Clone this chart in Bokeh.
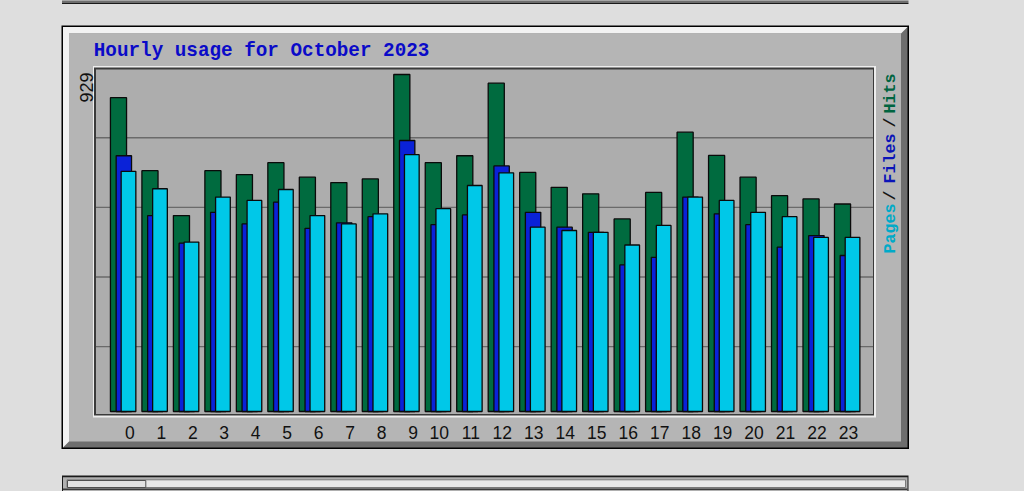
import numpy as np
from bokeh.plotting import figure
from bokeh.models import Range1d
from bokeh.embed import file_html
from bokeh.resources import INLINE
from bokeh.core.properties import value

# ---------------- data ----------------
HOURS = list(range(24))
HOUR_LABELS = [str(h) for h in HOURS]
HITS = [865, 664, 540, 664, 653, 686, 646, 631, 641, 929, 686, 705,
        905, 659, 618, 600, 531, 604, 770, 706, 646, 595, 586, 572]
FILES = [705, 540, 464, 549, 517, 577, 505, 520, 537, 747, 515, 542,
         677, 549, 508, 494, 404, 425, 591, 545, 515, 453, 485, 430]
PAGES = [662, 614, 467, 591, 582, 612, 540, 517, 545, 708, 559, 623,
         658, 508, 499, 494, 459, 513, 591, 582, 549, 537, 480, 480]
TITLE = "Hourly usage for October 2023"
MAX_LABEL = str(max(HITS))
LEGEND = [("Pages", "pages"), ("/", "sep"), ("Files", "files"), ("/", "sep"), ("Hits", "hits")]

# ---------------- style ----------------
PAGE_BG = "#dedede"
PANEL = "#b5b5b5"
PLOT_BG = "#adadad"
HITS_C = "#006b3f"
FILES_C = "#0a22d8"
PAGES_C = "#00c8e8"
TXT_C = {"pages": "#00aac8", "files": "#0a14b8", "hits": "#006440", "sep": "#151515"}

W, H = 1024, 491
OX, OY = 0, 0  # page offset of canvas

# page-pixel coordinate frame
p = figure(width=W, height=H, x_range=Range1d(OX, OX + W), y_range=Range1d(OY + H, OY),
           output_backend="svg", toolbar_location=None, min_border=0,
           x_axis_type=None, y_axis_type=None,
           border_fill_color=PAGE_BG, background_fill_color=PAGE_BG,
           outline_line_color=None)
p.grid.visible = False

# scales for the data
BASE_Y, TOP_Y = 411.0, 74.0
px_per = (BASE_Y - TOP_Y) / max(HITS)
X0, STEP = 109.3, 31.48
p.extra_y_ranges = {"v": Range1d((BASE_Y - (OY + H)) / px_per, (BASE_Y - OY) / px_per)}
p.extra_x_ranges = {"h": Range1d((OX - X0) / STEP, (OX + W - X0) / STEP)}

# ---------------- previous panel bottom edge ----------------
p.quad(left=61.5, right=908, top=-2, bottom=2.5, fill_color="#6e6e6e", line_color=None)
p.quad(left=61.5, right=908, top=2.5, bottom=3.5, fill_color="#1a1a1a", line_color=None)

# ---------------- outer panel ----------------
p.quad(left=61, right=908.5, top=25, bottom=448.5, fill_color="#000000", line_color=None)
p.quad(left=62.5, right=907, top=26.5, bottom=447, fill_color="#6e6e6e", line_color=None)
p.patch(x=[62.5, 907, 900.5, 68.5, 68.5, 62.5], y=[26.5, 26.5, 33, 33, 441, 447],
        fill_color="#f2f2f2", line_color=None)
p.quad(left=68.5, right=900.5, top=33, bottom=441, fill_color=PANEL, line_color=None)

# plot area with double border
p.quad(left=92.5, right=875.5, top=65.5, bottom=417, fill_color="#ededed", line_color=None)
p.quad(left=93.5, right=873.5, top=67, bottom=415, fill_color="#3a3a3a", line_color=None)
p.quad(left=95.5, right=872.5, top=69, bottom=413.5, fill_color=PLOT_BG, line_color=None)

# grid lines (decorative, fixed pixel spacing)
gy = [137.3 + 69.6 * k for k in range(4)]
p.segment(x0=[95.5] * 4, x1=[872.5] * 4, y0=gy, y1=gy, line_color="#6a6a6a", line_width=1.4)

# ---------------- bars ----------------
hx = np.array(HOURS, dtype=float)
LW = 1.3
p.vbar(x=hx + 0.276, width=0.553 - LW / STEP, top=HITS, bottom=0,
       fill_color=HITS_C, line_color="#0a0a0a", line_width=LW,
       x_range_name="h", y_range_name="v")
p.vbar(x=hx + 0.446, width=0.53 - LW / STEP, top=FILES, bottom=0,
       fill_color=FILES_C, line_color="#0a0a0a", line_width=LW,
       x_range_name="h", y_range_name="v")
p.vbar(x=hx + 0.594, width=0.508 - LW / STEP, top=PAGES, bottom=0,
       fill_color=PAGES_C, line_color="#0a0a0a", line_width=LW,
       x_range_name="h", y_range_name="v")

# ---------------- texts ----------------
lab_x = [h + (0.635 if len(s) == 1 else 0.467) for h, s in zip(HOURS, HOUR_LABELS)]
p.text(x=lab_x, y=[431.5] * 24, text=HOUR_LABELS, x_range_name="h",
       text_font=value("Liberation Sans"), text_font_size="17.5px", text_color="#111111",
       text_align="center", text_baseline="middle")

p.text(x=[85.5], y=[102], text=[MAX_LABEL], angle=np.pi / 2,
       text_font=value("Liberation Sans"), text_font_size="18px", text_color="#111111",
       text_align="left", text_baseline="middle")

p.text(x=[93.3], y=[50], text=[TITLE], text_font=value("Liberation Mono"),
       text_font_style="bold", text_font_size="19.3px", text_color="#0a0ac8",
       text_align="left", text_baseline="middle")

leg_y = [253, 200, 183, 127, 113]
for (t, k), yy in zip(LEGEND, leg_y):
    p.text(x=[890], y=[yy], text=[t], angle=np.pi / 2, text_font=value("Liberation Mono"),
           text_font_style="bold", text_font_size="16.7px", text_color=TXT_C[k],
           text_align="left", text_baseline="middle")

# ---------------- next panel (partially visible) ----------------
p.quad(left=61.5, right=908, top=475, bottom=495, fill_color="#1a1a1a", line_color=None)
p.quad(left=62.5, right=907, top=476.7, bottom=495, fill_color="#b0b0b0", line_color=None)
p.quad(left=66.5, right=905, top=479.3, bottom=487, fill_color="#e8e8e8", line_color="#7a7a7a", line_width=1)
p.quad(left=67, right=145.3, top=480, bottom=487, fill_color="#e2e2e2", line_color="#505050", line_width=1)
p.quad(left=62.5, right=907, top=488, bottom=489.5, fill_color="#3a3a3a", line_color=None)

html = file_html(p, INLINE)
html = html.replace("</head>", "<style>html,body{background-color:%s;}</style></head>" % PAGE_BG, 1)
open("out.html", "w").write(html)
